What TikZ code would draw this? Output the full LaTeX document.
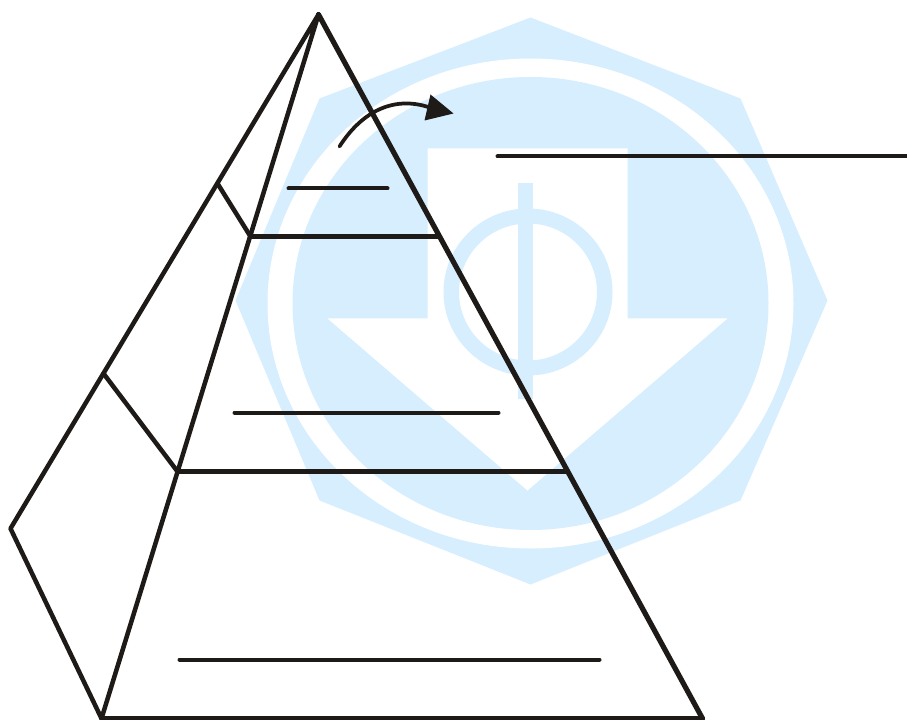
\documentclass[tikz,border=0pt]{standalone}
\definecolor{markblue}{HTML}{D6EEFE}
\definecolor{inkblack}{HTML}{1E1A18}
\begin{document}
\begin{tikzpicture}[x=0.75pt, y=-0.75pt, line join=round, line cap=round]
        \useasboundingbox (-0.5,-0.5) rectangle (906.5,719.5);

        \coordinate (Apex) at (318,14);
        \coordinate (BaseL) at (101,718);
        \coordinate (BaseR) at (702,718);
        \coordinate (Back) at (10,528);
        \coordinate (TopL) at (250,236);
        \coordinate (TopR) at (437,236);
        \coordinate (MidL) at (177,471);
        \coordinate (MidR) at (566,471);
        \coordinate (TopB) at (217,183);
        \coordinate (MidB) at (103,373);
        \coordinate (C) at (530,303);
        \coordinate (R) at (527.5,291.5);

        % watermark
        \fill[markblue] (530,17) -- (740,98) -- (827,300) -- (740,500) -- (530,584) -- (319,500) -- (235,300) -- (319,98) -- cycle;
        \fill[white] (C) ellipse (263 and 245);
        \fill[markblue] (C) ellipse (238 and 226.5);
        \fill[white] (427,148) -- (627,148) -- (627,318) -- (727,318) -- (527,490) -- (327,318) -- (427,318) -- cycle;
        \fill[markblue, even odd rule] (R) ellipse (84.5 and 83.5) (R) ellipse (69 and 68.5);
        \fill[markblue] (517,183) rectangle (532,398);

        % pyramid
        \draw[inkblack, line width=3.9pt] (Apex) -- (BaseR);
        \draw[inkblack, line width=3.4pt] (Apex) -- (Back) -- (BaseL) -- (Apex);
        \draw[inkblack, line width=3.4pt] (BaseL) -- (BaseR);
        \draw[inkblack, line width=3.6pt] (TopL) -- (TopR);
        \draw[inkblack, line width=3.8pt] (MidL) -- (MidR);
        \draw[inkblack, line width=3.4pt] (TopB) -- (TopL);
        \draw[inkblack, line width=3.4pt] (MidB) -- (MidL);

        % label lines
        \draw[inkblack, line width=3pt] (288,188) -- (387,188);
        \draw[inkblack, line width=3pt] (234,412) -- (498,412);
        \draw[inkblack, line width=3pt] (179,659) -- (599,659);
        \draw[inkblack, line width=3pt] (497,156) -- (907,156);

        % arrow
        \draw[inkblack, line width=2.8pt] (339,146) .. controls (362,110) and (395,94) .. (432,108);
        \fill[inkblack] (430,94) -- (453,113) -- (424,120) -- cycle;
\end{tikzpicture}
\end{document}
